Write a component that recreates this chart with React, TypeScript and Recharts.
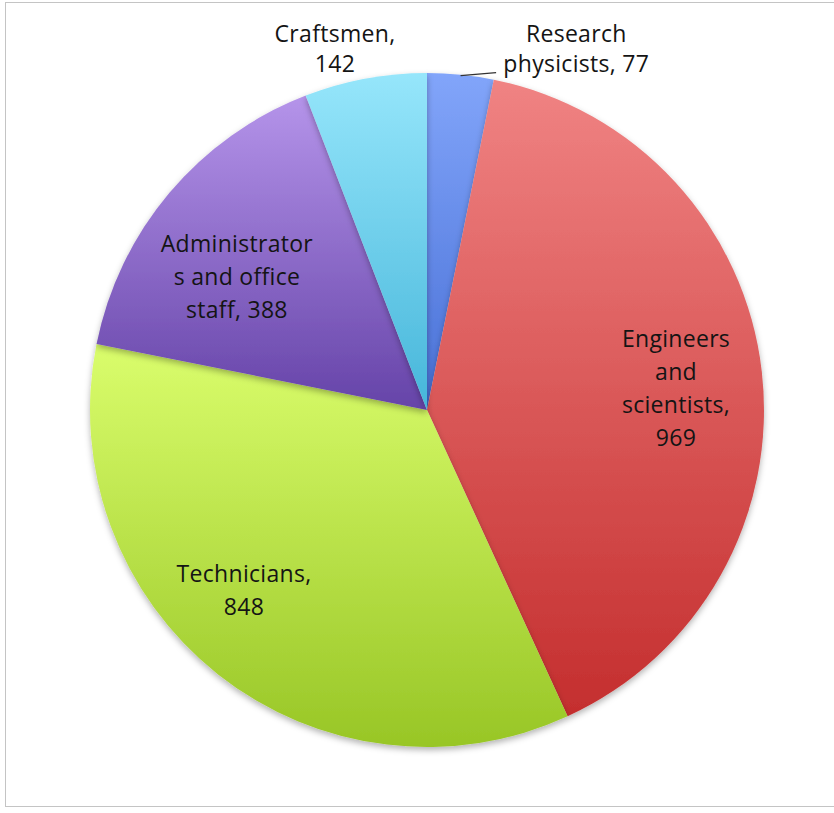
import React from 'react';
import { PieChart, Pie, Cell } from 'recharts';

const categories = [
  'Research physicists',
  'Engineers and scientists',
  'Technicians',
  'Administrators and office staff',
  'Craftsmen',
];
const counts = [77, 969, 848, 388, 142];
const labelLines = [
  ['Research', 'physicists, 77'],
  ['Engineers', 'and', 'scientists,', '969'],
  ['Technicians,', '848'],
  ['Administrator', 's and office', 'staff, 388'],
  ['Craftsmen,', '142'],
];

// gradient stops per slice: top, bottom
const sliceColors = [
  ['#82a5fa', '#4870d6'],
  ['#f08383', '#c42e2e'],
  ['#dafd6c', '#98c626'],
  ['#b594ea', '#6543a8'],
  ['#96e6fb', '#46b6da'],
];

// label placement, relative to the outer radius (first line centre)
const labelLayout = [
  { fx: 0.443, fy: -1.119, lh: 30, leaderTo: 0.205 },
  { fx: 0.739, fy: -0.214, lh: 33 },
  { fx: -0.543, fy: 0.484, lh: 33 },
  { fx: -0.564, fy: -0.496, lh: 33 },
  { fx: -0.273, fy: -1.119, lh: 30 },
];

const RAD = Math.PI / 180;

const data = categories.map((name, i) => ({ name, value: counts[i] }));

function renderLabel(props: any) {
  const { cx, cy, outerRadius, midAngle, index } = props;
  const lay = labelLayout[index];
  const x = cx + lay.fx * outerRadius;
  const y0 = cy + lay.fy * outerRadius;
  const lines = labelLines[index];
  let leader = null;
  if (lay.leaderTo !== undefined) {
    const sx = cx + outerRadius * Math.cos(-midAngle * RAD);
    const sy = cy + outerRadius * Math.sin(-midAngle * RAD) + 1;
    const ex = cx + lay.leaderTo * outerRadius;
    leader = <path d={`M${sx},${sy} L${ex},${sy - 3}`} stroke="#333" strokeWidth={1.2} fill="none" />;
  }
  return (
    <g key={`lbl-${index}`}>
      {leader}
      <text
        x={x}
        y={y0}
        textAnchor="middle"
        fill="#141414"
        fontFamily="'Open Sans', sans-serif"
        fontSize={23}
        letterSpacing={0.3}
      >
        {lines.map((ln, i) => (
          <tspan key={i} x={x} y={y0 + i * lay.lh} dominantBaseline="central">
            {ln}
          </tspan>
        ))}
      </text>
    </g>
  );
}

export default function App() {
  return (
    <div style={{ position: 'absolute', left: 0, top: 0, width: 834, height: 813, background: '#fff' }}>
      <div
        style={{
          position: 'absolute',
          left: 5,
          top: 2,
          width: 840,
          height: 805,
          border: '1px solid #c4c4c4',
          boxSizing: 'border-box',
        }}
      />
      <PieChart width={834} height={813} margin={{ top: 0, right: 0, bottom: 0, left: 0 }}>
        <defs>
          {sliceColors.map((c, i) => (
            <linearGradient key={i} id={`grad${i}`} x1="0" y1="0" x2="0" y2="1">
              <stop offset="0%" stopColor={c[0]} />
              <stop offset="100%" stopColor={c[1]} />
            </linearGradient>
          ))}
          <filter id="pieShadow" x="-10%" y="-10%" width="120%" height="120%">
            <feDropShadow dx="0" dy="3" stdDeviation="3" floodColor="#000" floodOpacity="0.3" />
          </filter>
        </defs>
        <Pie
          data={data}
          dataKey="value"
          nameKey="name"
          cx={427}
          cy={410}
          outerRadius={337}
          startAngle={90}
          endAngle={-270}
          stroke="none"
          label={renderLabel}
          labelLine={false}
          isAnimationActive={false}
          style={{ filter: 'url(#pieShadow)' }}
        >
          {data.map((d, i) => (
            <Cell key={d.name} fill={`url(#grad${i})`} stroke="none" />
          ))}
        </Pie>
      </PieChart>
    </div>
  );
}
